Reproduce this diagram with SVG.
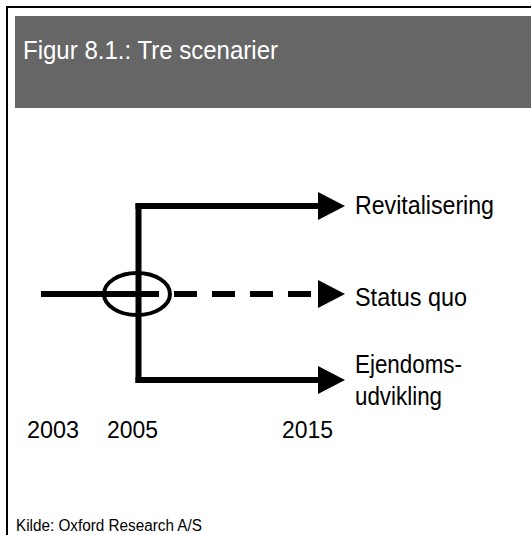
<svg xmlns="http://www.w3.org/2000/svg" width="531" height="535" viewBox="0 0 531 535">
  <style>
    .lbl { font-family: "Liberation Sans", Arial, sans-serif; font-size: 25px; fill: #000; }
    .yr { font-family: "Liberation Sans", Arial, sans-serif; font-size: 23px; fill: #000; }
    .ln { stroke: #000; stroke-width: 6; fill: none; }
    .head { fill: #000; }
  </style>
  <rect width="531" height="535" fill="#fff"/>
  <g id="frame">
    <path d="M7,540 V7 H540" fill="none" stroke="#000" stroke-width="2"/>
  </g>
  <g id="title">
    <rect x="15" y="16" width="520" height="92" fill="#666666"/>
    <text x="23" y="59" font-family="Liberation Sans, Arial, sans-serif" font-size="26" fill="#fff" textLength="255" lengthAdjust="spacingAndGlyphs">Figur 8.1.: Tre scenarier</text>
  </g>
  <g id="connectors">
    <line class="ln" x1="41" y1="294" x2="159" y2="294"/>
    <line class="ln" x1="138.5" y1="203" x2="138.5" y2="383"/>
    <line class="ln" x1="135.5" y1="206" x2="320" y2="206"/>
    <line class="ln" x1="135.5" y1="380" x2="320" y2="380"/>
    <line class="ln" x1="174" y1="294" x2="313" y2="294" stroke-dasharray="23 15"/>
    <polygon class="head" points="318,192 345,206 318,220"/>
    <polygon class="head" points="318,280 345,294 318,308"/>
    <polygon class="head" points="318,366 345,380 318,394"/>
  </g>
  <g id="branch-node">
    <ellipse cx="137" cy="294" rx="33" ry="21" fill="none" stroke="#000" stroke-width="4"/>
  </g>
  <g id="revitalisering">
    <text class="lbl" x="355" y="214" textLength="139" lengthAdjust="spacingAndGlyphs">Revitalisering</text>
  </g>
  <g id="status-quo">
    <text class="lbl" x="355" y="306" textLength="112" lengthAdjust="spacingAndGlyphs">Status quo</text>
  </g>
  <g id="ejendomsudvikling">
    <text class="lbl" x="355" y="373" textLength="107" lengthAdjust="spacingAndGlyphs">Ejendoms-</text>
    <text class="lbl" x="355" y="405" textLength="87" lengthAdjust="spacingAndGlyphs">udvikling</text>
  </g>
  <g id="years">
    <text class="yr" x="27" y="438" textLength="52" lengthAdjust="spacingAndGlyphs">2003</text>
    <text class="yr" x="107" y="438" textLength="51" lengthAdjust="spacingAndGlyphs">2005</text>
    <text class="yr" x="282" y="438" textLength="51" lengthAdjust="spacingAndGlyphs">2015</text>
  </g>
  <g id="source">
    <text x="16" y="531" font-family="Liberation Sans, Arial, sans-serif" font-size="16" fill="#000" textLength="186" lengthAdjust="spacingAndGlyphs">Kilde: Oxford Research A/S</text>
  </g>
</svg>
